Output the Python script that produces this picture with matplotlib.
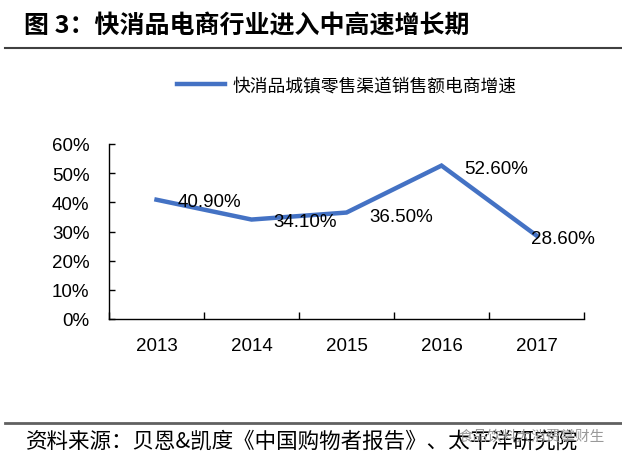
import matplotlib
matplotlib.use('Agg')
import matplotlib.pyplot as plt
from matplotlib.lines import Line2D
import numpy as np

plt.rcParams['font.family'] = ['Liberation Sans', 'Noto Sans CJK SC', 'DejaVu Sans']

# data
years = ['2013', '2014', '2015', '2016', '2017']
growth = [40.9, 34.1, 36.5, 52.6, 28.6]
series_name = '快消品城镇零售渠道销售额电商增速'
y_ticks = [0, 10, 20, 30, 40, 50, 60]

# label offsets (pixels) from each point
label_dx = [21, 22, 23, 23, -6]
label_dy = [-2, -2, -4, -3, -3]

W, H = 622, 456
fig = plt.figure(figsize=(W / 100, H / 100), dpi=100)
ax = fig.add_axes([109 / W, 1 - 320 / H, (584 - 109) / W, (320 - 145) / H])

x = np.arange(len(years))
ax.plot(x, growth, color='#4472C4', lw=3.2, solid_joinstyle='miter')

for xi, v, dx, dy in zip(x, growth, label_dx, label_dy):
    ax.annotate(f'{v:.2f}%', (xi, v), xytext=(dx, dy), textcoords='offset pixels',
                ha='left', va='center', fontsize=13.5)

ax.set_xlim(-0.5, len(years) - 0.5)
ax.set_ylim(0, 60)
ax.set_yticks(y_ticks)
ax.set_yticklabels([f'{t}%' for t in y_ticks])
ax.set_xticks(x)
ax.set_xticklabels(years)
ax.set_xticks(np.arange(-0.5, len(years), 1), minor=True)
ax.tick_params(axis='x', which='major', length=0, pad=13, labelsize=13.5)
ax.tick_params(axis='x', which='minor', direction='in', length=5, width=1)
ax.tick_params(axis='y', direction='in', length=4, width=1, pad=14, labelsize=13.5)
for s in ['top', 'right']:
    ax.spines[s].set_visible(False)
for s in ['left', 'bottom']:
    ax.spines[s].set_linewidth(1)

handle = Line2D([0], [0], color='#4472C4', lw=3.2)
fig.legend([handle], [series_name], loc='center',
           bbox_to_anchor=((176 + 517) / 2 / W, 1 - 87 / H),
           frameon=False, fontsize=12.8, handlelength=2.75, handletextpad=0.4)

# title and separators
fig.text(24 / W, 1 - 26 / H, '图 3：快消品电商行业进入中高速增长期',
         fontsize=18, fontweight='bold', va='center', ha='left',
         family=['Noto Sans CJK SC', 'DejaVu Sans'])
fig.add_artist(Line2D([5 / W, 1], [1 - 49 / H, 1 - 49 / H], color='#404040', lw=1.5))
fig.add_artist(Line2D([5 / W, 1], [1 - 424 / H, 1 - 424 / H], color='#606060', lw=2))

fig.text(26 / W, 1 - 442 / H, '资料来源：贝恩&凯度《中国购物者报告》、太平洋研究院',
         fontsize=15.5, style='italic', va='center', ha='left',
         family=['Noto Sans CJK SC', 'DejaVu Sans'])
fig.text(458 / W, 1 - 437 / H, '食品饮料大消费掌财生', fontsize=10.5, color='#999999',
         va='center', ha='left', family=['Noto Sans CJK SC', 'DejaVu Sans'])

fig.savefig('out.png', dpi=100)
